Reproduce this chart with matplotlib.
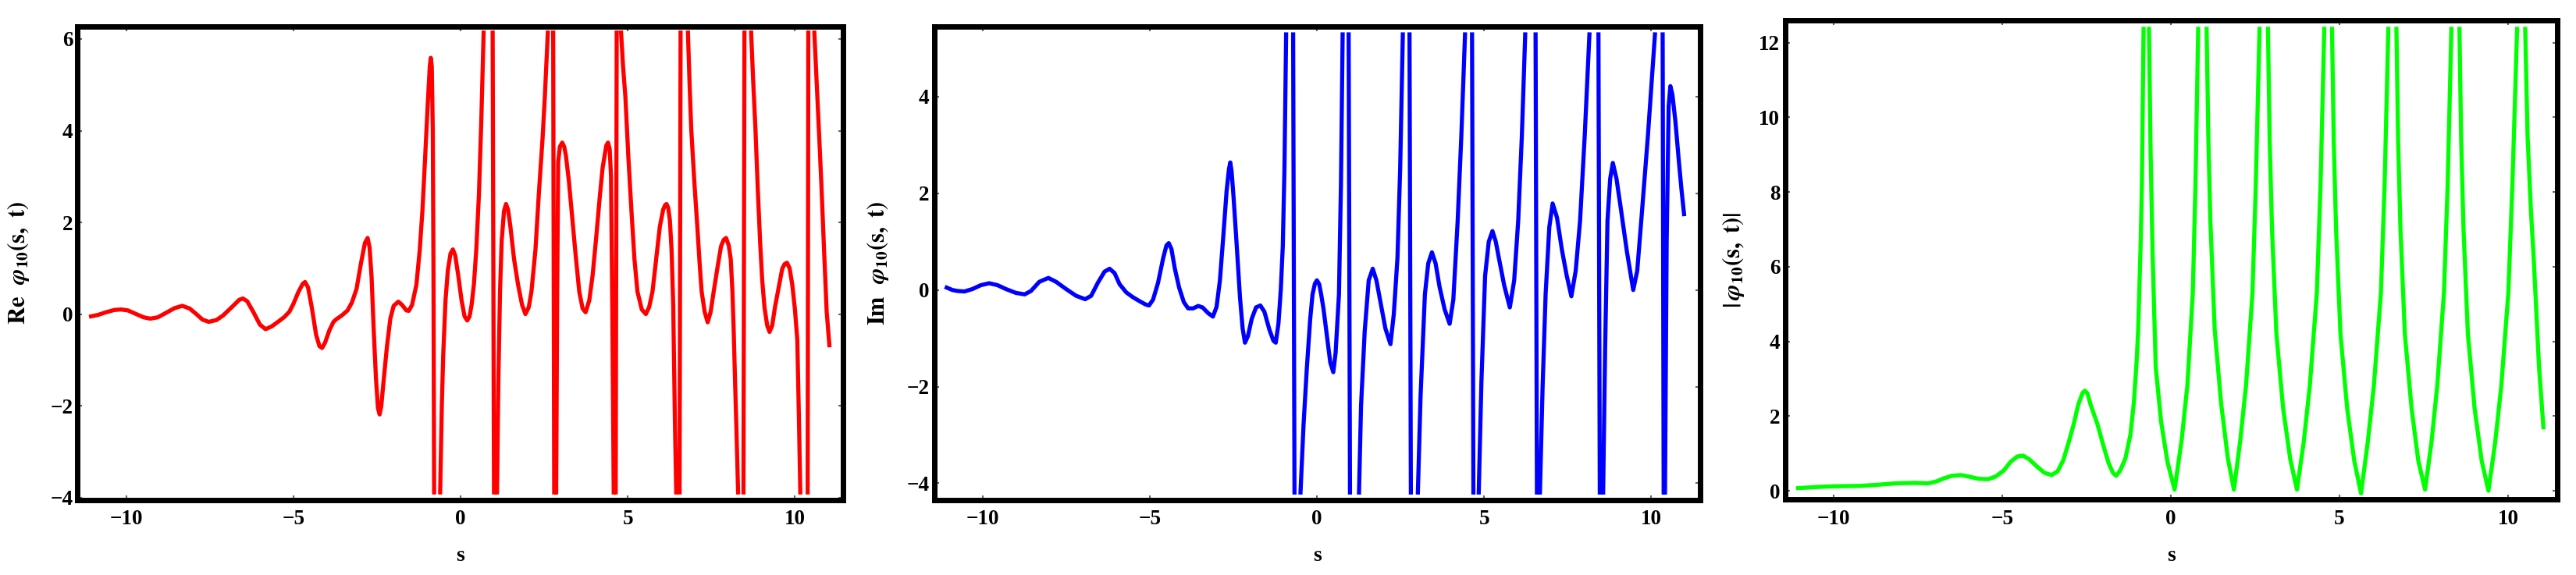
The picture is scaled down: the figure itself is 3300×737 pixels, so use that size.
import numpy as np
import matplotlib
matplotlib.use('Agg')
import matplotlib.pyplot as plt

nan = np.nan

# Re phi_10(s, t)  (segments separated by nan)
re_s = [-11.05, -10.85, -10.6, -10.35, -10.15, -9.95, -9.7, -9.48, -9.28, -9.05, -8.8, -8.55, -8.32,
        -8.1, -7.9, -7.72, -7.53, -7.3, -7.1, -6.8, -6.62, -6.51, -6.38, -6.2, -6.0, -5.83, -5.65,
        -5.46, -5.28, -5.12, -5.0, -4.85, -4.72, -4.65, -4.56, -4.45, -4.32, -4.22, -4.14, -4.05,
        -3.92, -3.80, -3.71, -3.55, -3.38, -3.25, -3.11, -2.98, -2.86, -2.78, -2.72, -2.66, -2.6,
        -2.53, -2.47, -2.42, -2.37, -2.30, -2.2, -2.1, -2.0, -1.86, -1.75, -1.62, -1.55, -1.45,
        -1.32, -1.22, -1.14, -1.06, -0.98, -0.92, -0.89, -0.86, -0.83, -0.81, -0.79, nan,
        -0.61, -0.56, -0.52, -0.45, -0.38, -0.30, -0.23, -0.16, -0.07, 0.03, 0.12, 0.20, 0.27, 0.33,
        0.40, 0.47, 0.55, 0.62, 0.69, nan,
        0.96, 1.0, nan,
        1.09, 1.13, 1.18, 1.23, 1.30, 1.36, 1.42, 1.49, 1.6, 1.72, 1.84, 1.94, 2.04, 2.12, 2.24, 2.34,
        2.45, 2.52, 2.61, nan,
        2.77, 2.80, nan,
        2.86, 2.89, 2.92, 2.97, 3.04, 3.10, 3.15, 3.24, 3.32, 3.44, 3.55, 3.65, 3.74, 3.85, 3.95, 4.06,
        4.17, 4.25, 4.31, 4.36, 4.41, 4.46, 4.50, 4.54, 4.58, nan,
        4.64, 4.67, nan,
        4.80, 4.86, 4.93, 5.02, 5.11, 5.20, 5.29, 5.42, 5.54, 5.64, 5.74, 5.85, 5.96, 6.06, 6.12, 6.16,
        6.21, 6.26, 6.31, 6.36, 6.41, 6.45, nan,
        6.55, 6.58, nan,
        6.80, 6.85, 6.90, 6.99, 7.08, 7.15, 7.21, 7.30, 7.39, 7.48, 7.57, 7.68, 7.79, 7.87, 7.94, 8.02,
        8.08, 8.13, 8.17, 8.21, 8.25, 8.30, nan,
        8.46, 8.49, nan,
        8.69, 8.75, 8.82, 8.89, 8.96, 9.02, 9.09, 9.17, 9.24, 9.32, 9.40, 9.52, 9.62, 9.69, 9.76, 9.84,
        9.92, 10.0, 10.07, 10.12, 10.16, nan,
        10.38, 10.40, nan,
        10.58, 10.66, 10.73, 10.79, 10.87, 10.95, 11.03]
re_val = [-0.05, -0.02, 0.04, 0.09, 0.10, 0.08, 0.0, -0.07, -0.10, -0.07, 0.03, 0.13, 0.18,
          0.12, 0.0, -0.12, -0.17, -0.13, -0.03, 0.18, 0.31, 0.34, 0.28, 0.05, -0.23, -0.33, -0.27,
          -0.17, -0.07, 0.05, 0.22, 0.48, 0.66, 0.70, 0.58, 0.15, -0.45, -0.70, -0.74, -0.62,
          -0.35, -0.17, -0.11, -0.03, 0.08, 0.25, 0.55, 1.10, 1.55, 1.66, 1.45, 0.8, -0.3,
          -1.4, -2.05, -2.19, -2.0, -1.45, -0.7, -0.1, 0.18, 0.27, 0.20, 0.08, 0.07, 0.2,
          0.64, 1.4, 2.26, 3.4, 4.6, 5.4, 5.59, 5.4, 4.0, 1.0, -3.89, nan,
          -3.89, -2.0, -0.92, 0.3, 0.95, 1.32, 1.41, 1.28, 0.85, 0.3, -0.05, -0.14, -0.05, 0.2,
          0.65, 1.4, 2.61, 4.2, 6.14, nan,
          6.14, -3.89, nan,
          -3.89, -1.5, 0.49, 1.6, 2.25, 2.40, 2.28, 1.91, 1.2, 0.64, 0.2, 0.0, 0.15, 0.49, 1.4, 2.61,
          3.8, 4.73, 6.14, nan,
          6.14, -3.89, nan,
          -3.89, 0.5, 3.32, 3.65, 3.74, 3.65, 3.46, 2.9, 2.26, 1.3, 0.49, 0.12, 0.04, 0.3, 0.85, 1.7,
          2.61, 3.2, 3.46, 3.68, 3.74, 3.6, 3.0, 0.0, -3.89, nan,
          -3.89, 6.14, nan,
          6.14, 5.4, 4.73, 3.4, 2.26, 1.2, 0.49, 0.1, 0.0, 0.15, 0.49, 1.2, 1.91, 2.28, 2.38, 2.40,
          2.32, 2.05, 1.4, 0.2, -2.33, -3.89, nan,
          -3.89, 6.14, nan,
          6.14, 5.0, 4.02, 2.9, 1.91, 1.1, 0.49, 0.05, -0.18, 0.05, 0.49, 1.0, 1.48, 1.62, 1.66, 1.5,
          1.2, 0.5, -0.4, -1.5, -2.5, -3.89, nan,
          -3.89, 6.14, nan,
          6.14, 5.1, 4.02, 2.7, 1.55, 0.75, 0.14, -0.25, -0.39, -0.25, 0.14, 0.6, 0.99, 1.09, 1.12, 1.0,
          0.64, 0.1, -0.56, -2.3, -3.89, nan,
          -3.89, 6.14, nan,
          6.14, 4.9, 3.8, 2.84, 1.4, 0.04, -0.68]

# Im phi_10(s, t)
im_s = [-11.07, -10.9, -10.75, -10.54, -10.3, -10.05, -9.80, -9.55, -9.3, -9.0, -8.74, -8.55, -8.3,
        -8.03, -7.8, -7.5, -7.2, -6.93, -6.75, -6.55, -6.35, -6.20, -6.05, -5.9, -5.70, -5.5, -5.28,
        -5.12, -5.02, -4.9, -4.75, -4.6, -4.5, -4.43, -4.35, -4.25, -4.12, -3.98, -3.85, -3.7, -3.55,
        -3.42, -3.25, -3.11, -3.0, -2.9, -2.8, -2.7, -2.63, -2.59, -2.55, -2.49, -2.4, -2.3, -2.22,
        -2.15, -2.06, -1.95, -1.82, -1.69, -1.57, -1.42, -1.3, -1.23, -1.15, -1.08, -1.02, -0.97,
        -0.92, nan,
        -0.71, -0.67, nan,
        -0.49, -0.40, -0.30, -0.20, -0.13, -0.06, 0.0, 0.07, 0.13, 0.20, 0.30, 0.40, 0.49, 0.56, 0.61,
        0.66, 0.72, 0.77, nan,
        0.95, 0.99, nan,
        1.26, 1.32, 1.43, 1.55, 1.67, 1.78, 1.92, 2.05, 2.20, 2.30, 2.41, 2.49, 2.57, nan,
        2.77, 2.81, nan,
        3.02, 3.10, 3.23, 3.33, 3.44, 3.55, 3.67, 3.82, 3.97, 4.08, 4.21, 4.32, 4.43, nan,
        4.64, 4.68, nan,
        4.84, 4.92, 5.03, 5.14, 5.25, 5.35, 5.44, 5.60, 5.77, 5.90, 6.02, 6.13, 6.23, nan,
        6.54, 6.58, nan,
        6.67, 6.75, 6.84, 6.95, 7.05, 7.18, 7.33, 7.47, 7.61, 7.74, 7.87, 8.01, 8.15, nan,
        8.42, 8.46, nan,
        8.56, 8.62, 8.69, 8.77, 8.85, 8.96, 9.08, 9.27, 9.46, 9.58, 9.70, 9.90, 10.11, nan,
        10.34, 10.37, nan,
        10.41, 10.46, 10.52, 10.57, 10.63, 10.72, 10.82, 10.90, 10.98]
im_val = [0.05, 0.0, -0.02, -0.03, 0.02, 0.10, 0.14, 0.10, 0.02, -0.06, -0.09, -0.02, 0.17,
          0.25, 0.17, 0.02, -0.12, -0.19, -0.12, 0.15, 0.38, 0.44, 0.35, 0.12, -0.05, -0.15, -0.24,
          -0.30, -0.32, -0.2, 0.15, 0.65, 0.92, 0.97, 0.85, 0.45, 0.05, -0.25, -0.38, -0.38, -0.33,
          -0.36, -0.48, -0.55, -0.35, 0.2, 1.1, 2.05, 2.5, 2.64, 2.45, 1.9, 0.95, -0.15, -0.8,
          -1.09, -0.95, -0.6, -0.36, -0.32, -0.45, -0.82, -1.05, -1.09, -0.7, 0.0, 0.9, 2.5,
          5.29, nan,
          5.29, -4.19, nan,
          -4.19, -2.8, -1.61, -0.6, -0.09, 0.13, 0.20, 0.12, -0.1, -0.40, -0.95, -1.5, -1.70, -1.3, -0.7,
          -0.09, 2.2, 5.29, nan,
          5.29, -4.19, nan,
          -4.19, -2.4, -0.85, 0.2, 0.44, 0.2, -0.32, -0.8, -1.12, -0.5, 0.67, 2.5, 5.29, nan,
          5.29, -4.19, nan,
          -4.19, -2.2, -0.09, 0.55, 0.78, 0.55, 0.06, -0.4, -0.70, -0.2, 1.43, 3.2, 5.29, nan,
          5.29, -4.19, nan,
          -4.19, -1.9, 0.29, 1.0, 1.22, 1.0, 0.67, 0.1, -0.36, 0.2, 1.43, 3.2, 5.29, nan,
          5.29, -4.19, nan,
          -4.19, -2.0, -0.09, 1.3, 1.79, 1.5, 0.82, 0.3, -0.13, 0.4, 1.43, 3.2, 5.29, nan,
          5.29, -4.19, nan,
          -4.19, -1.2, 1.43, 2.3, 2.63, 2.3, 1.73, 0.8, 0.0, 0.4, 1.43, 3.2, 5.29, nan,
          5.29, -4.19, nan,
          -4.19, 1.0, 3.8, 4.22, 4.05, 3.5, 2.7, 2.1, 1.57]

# |phi_10(s, t)|
abs_s = [-11.06, -10.5, -9.98, -9.21, -8.7, -8.13, -7.6, -7.20, -6.95, -6.74, -6.5, -6.23, -6.0,
         -5.7, -5.42, -5.2, -4.96, -4.75, -4.55, -4.38, -4.2, -3.96, -3.75, -3.54, -3.36, -3.19,
         -3.03, -2.88, -2.75, -2.62, -2.55, -2.47, -2.38, -2.18, -2.0, -1.85, -1.72, -1.62, -1.5,
         -1.35, -1.2, -1.10, -1.02, -0.97, -0.9, -0.86, -0.81, nan,
         -0.65, -0.60, -0.54, -0.45, -0.29, -0.10, 0.11, 0.32, 0.49, 0.65, 0.73, 0.81, nan,
         1.06, 1.11, 1.17, 1.30, 1.49, 1.69, 1.87, 2.06, 2.23, 2.42, 2.52, 2.63, nan,
         2.88, 2.93, 3.00, 3.13, 3.33, 3.54, 3.74, 3.94, 4.12, 4.33, 4.44, 4.55, nan,
         4.78, 4.83, 4.90, 5.03, 5.23, 5.44, 5.64, 5.84, 6.02, 6.23, 6.34, 6.45, nan,
         6.69, 6.74, 6.81, 6.94, 7.14, 7.34, 7.54, 7.73, 7.90, 8.10, 8.21, 8.32, nan,
         8.56, 8.61, 8.68, 8.81, 9.01, 9.22, 9.42, 9.62, 9.80, 10.01, 10.13, 10.27, nan,
         10.51, 10.58, 10.68, 10.76, 10.92, 11.05]
abs_val = [0.07, 0.10, 0.12, 0.13, 0.16, 0.20, 0.21, 0.20, 0.25, 0.33, 0.40, 0.42, 0.38,
           0.32, 0.31, 0.38, 0.54, 0.78, 0.92, 0.94, 0.84, 0.64, 0.48, 0.42, 0.52, 0.82,
           1.3, 1.79, 2.3, 2.62, 2.68, 2.6, 2.30, 1.79, 1.2, 0.75, 0.48, 0.40, 0.55,
           0.86, 1.5, 2.34, 3.4, 4.3, 6.5, 8.2, 12.37, nan,
           12.37, 9.0, 6.27, 3.32, 1.85, 0.77, 0.03, 1.36, 2.83, 5.29, 8.24, 12.37, nan,
           12.37, 9.5, 7.26, 4.31, 2.34, 0.87, 0.03, 1.36, 2.83, 5.29, 8.24, 12.37, nan,
           12.37, 9.4, 7.0, 4.2, 2.2, 0.85, 0.03, 1.3, 2.8, 5.3, 8.2, 12.37, nan,
           12.37, 9.4, 7.0, 4.2, 2.2, 0.8, -0.07, 1.3, 2.8, 5.3, 8.2, 12.37, nan,
           12.37, 9.4, 7.0, 4.2, 2.2, 0.8, 0.03, 1.3, 2.8, 5.3, 8.2, 12.37, nan,
           12.37, 9.4, 7.0, 4.2, 2.2, 0.8, 0.0, 1.3, 2.8, 5.3, 8.2, 12.37, nan,
           12.37, 9.5, 7.5, 6.27, 3.32, 1.70]

x_ticks = [-10, -5, 0, 5, 10]
re_ticks = [-4, -2, 0, 2, 4, 6]
im_ticks = [-4, -2, 0, 2, 4]
abs_ticks = [0, 2, 4, 6, 8, 10, 12]

plt.rcParams['font.family'] = ['Liberation Serif', 'DejaVu Serif']
plt.rcParams['font.weight'] = 'bold'
plt.rcParams['mathtext.fontset'] = 'stix'

fig = plt.figure(figsize=(33, 7.37), dpi=100)

panels = [
    dict(pos=[0.03015, 0.1309, 0.29727, 0.8236], s=re_s, v=re_val, color='#ff0000',
         ylim=(-4.05, 6.28), yticks=re_ticks,
         label=r'$\mathbf{Re}\ \ \varphi_{\mathbf{10}}\mathbf{(s,\ t)}$', lx=-0.077),
    dict(pos=[0.36258, 0.1309, 0.29727, 0.8236], s=im_s, v=im_val, color='#0000ff',
         ylim=(-4.34, 5.46), yticks=im_ticks,
         label=r'$\mathbf{Im}\ \ \varphi_{\mathbf{10}}\mathbf{(s,\ t)}$', lx=-0.073),
    dict(pos=[0.69288, 0.1316, 0.2997, 0.8331], s=abs_s, v=abs_val, color='#00ff00',
         ylim=(-0.23, 12.6), yticks=abs_ticks,
         label=r'$\mathbf{|}\,\varphi_{\mathbf{10}}\mathbf{(s,\ t)|}$', lx=-0.067),
]

for p in panels:
    ax = fig.add_axes(p['pos'])
    ax.plot(p['s'], p['v'], color=p['color'], linewidth=3.8, solid_joinstyle='round')
    ax.set_xlim(-11.45, 11.45)
    ax.set_ylim(*p['ylim'])
    ax.set_xticks(x_ticks)
    ax.set_yticks(p['yticks'])
    for sp in ax.spines.values():
        sp.set_linewidth(5)
        sp.set_color('black')
    ax.tick_params(direction='in', length=4, width=1.5, color='#666666',
                   top=True, right=True, labelsize=19.5)
    ax.tick_params(axis='x', pad=9)
    ax.tick_params(axis='y', pad=4.5)
    ax.set_xlabel('s', fontsize=20, fontweight='bold', va='center')
    ax.xaxis.set_label_coords(0.5, -0.118)
    ax.set_ylabel(p['label'], fontsize=22, va='center')
    ax.yaxis.set_label_coords(p['lx'], 0.5)

fig.savefig('out.png', dpi=100)
